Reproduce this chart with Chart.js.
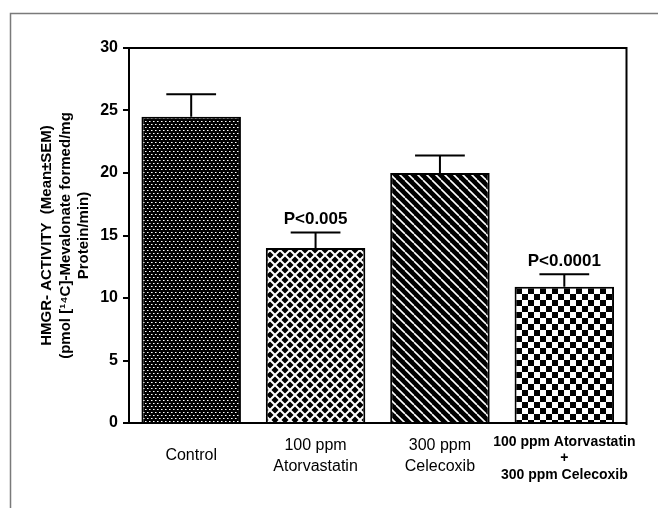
<!DOCTYPE html>
<html>
<head>
<meta charset="utf-8">
<script src="https://cdn.jsdelivr.net/npm/chart.js@4.4.1/dist/chart.umd.min.js"></script>
<style>
  html, body { margin: 0; padding: 0; background: #fff; }
  canvas { display: block; }
</style>
</head>
<body>
<canvas id="c" width="658" height="508"></canvas>
<script>
// ---- data ----
const categories = [
  'Control',
  ['100 ppm', 'Atorvastatin'],
  ['300 ppm', 'Celecoxib'],
  ['100 ppm Atorvastatin', '+', '300 ppm Celecoxib']
];
const values = [24.5, 14.0, 20.0, 10.9];
const semValues = [1.8, 1.25, 1.4, 1.0];
const pLabels = ['', 'P<0.005', '', 'P<0.0001'];
const yTitle = ['HMGR- ACTIVITY  (Mean\u00B1SEM)', '(pmol [\u00B9\u2074C]-Mevalonate formed/mg', 'Protein/min)'];
const yMin = 0, yMax = 30, yStep = 5;

const FONT = '"Liberation Sans", Arial, Helvetica, sans-serif';

// ---- patterns ----
function tile(w, h, draw) {
  const c = document.createElement('canvas');
  c.width = w; c.height = h;
  const g = c.getContext('2d');
  draw(g, w, h);
  return document.getElementById('c').getContext('2d').createPattern(c, 'repeat');
}
const dotPattern = tile(8, 6, (g, w, h) => {
  g.fillStyle = '#000'; g.fillRect(0, 0, w, h);
  g.fillStyle = '#fff';
  g.fillRect(1, 1, 1, 1); g.fillRect(5, 1, 1, 1);
  g.fillRect(3, 4, 1, 1); g.fillRect(7, 4, 1, 1);
  g.fillStyle = '#888';
  g.fillRect(2, 1, 1, 1); g.fillRect(6, 1, 1, 1);
  g.fillRect(4, 4, 1, 1); g.fillRect(0, 4, 1, 1);
});
const diamondPattern = tile(10, 10, (g, w, h) => {
  g.fillStyle = '#000'; g.fillRect(0, 0, w, h);
  g.strokeStyle = '#fff'; g.lineWidth = 2;
  for (const dx of [-w, 0, w]) for (const dy of [-h, 0, h]) {
    g.beginPath();
    g.moveTo(dx, dy); g.lineTo(dx + w, dy + h);
    g.moveTo(dx + w, dy); g.lineTo(dx, dy + h);
    g.stroke();
  }
});
const stripePattern = tile(9, 9, (g, w, h) => {
  g.fillStyle = '#000'; g.fillRect(0, 0, w, h);
  g.strokeStyle = '#fff'; g.lineWidth = 1.6;
  for (const dx of [-w, 0, w]) {
    g.beginPath();
    g.moveTo(dx, 0); g.lineTo(dx + w, h);
    g.stroke();
  }
});
const checkerPattern = tile(12, 12, (g, w, h) => {
  g.fillStyle = '#fff'; g.fillRect(0, 0, w, h);
  g.fillStyle = '#000';
  g.fillRect(0, 0, 6, 6); g.fillRect(6, 6, 6, 6);
});
const barFills = [dotPattern, diamondPattern, stripePattern, checkerPattern];

// ---- plugins ----
const framePlugin = {
  id: 'frame',
  beforeDraw(chart) {
    const ctx = chart.ctx;
    ctx.save();
    ctx.fillStyle = '#fff';
    ctx.fillRect(0, 0, chart.width, chart.height);
    ctx.strokeStyle = '#7a7a7a';
    ctx.lineWidth = 1.5;
    ctx.beginPath();
    ctx.moveTo(10.5, chart.height + 5);
    ctx.lineTo(10.5, 13.5);
    ctx.lineTo(chart.width + 5, 13.5);
    ctx.stroke();
    ctx.restore();
  },
  afterDraw(chart) {
    const {ctx, chartArea: a} = chart;
    ctx.save();
    ctx.strokeStyle = '#000';
    ctx.lineWidth = 2;
    ctx.beginPath();
    ctx.moveTo(a.left - 1, a.top);
    ctx.lineTo(a.right, a.top);
    ctx.lineTo(a.right, a.bottom + 2);
    ctx.stroke();
    ctx.restore();
  }
};
const errorPlugin = {
  id: 'errorBars',
  afterDatasetsDraw(chart) {
    const ctx = chart.ctx;
    const meta = chart.getDatasetMeta(0);
    const y = chart.scales.y;
    ctx.save();
    ctx.strokeStyle = '#000';
    ctx.lineWidth = 2;
    meta.data.forEach((bar, i) => {
      const x = bar.x;
      const yBar = y.getPixelForValue(values[i]);
      const yTop = y.getPixelForValue(values[i] + semValues[i]);
      const half = bar.width / 4;
      ctx.beginPath();
      ctx.moveTo(x, yBar);
      ctx.lineTo(x, yTop);
      ctx.moveTo(x - half, yTop);
      ctx.lineTo(x + half, yTop);
      ctx.stroke();
      if (pLabels[i]) {
        ctx.fillStyle = '#000';
        ctx.font = 'bold 17px ' + FONT;
        ctx.textAlign = 'center';
        ctx.textBaseline = 'middle';
        ctx.fillText(pLabels[i], x, yTop - 13);
      }
    });
    ctx.restore();
  }
};

new Chart(document.getElementById('c'), {
  type: 'bar',
  data: {
    labels: categories,
    datasets: [{
      data: values,
      backgroundColor: barFills,
      borderColor: '#000',
      borderWidth: 2,
      barPercentage: 0.8,
      categoryPercentage: 1.0
    }]
  },
  options: {
    responsive: false,
    animation: false,
    devicePixelRatio: 1,
    layout: { padding: { top: 48, right: 28, left: 0, bottom: 0 } },
    plugins: { legend: { display: false }, tooltip: { enabled: false } },
    scales: {
      x: {
        grid: { display: false, drawTicks: false },
        border: { display: true, color: '#000', width: 2 },
        ticks: {
          color: '#000',
          autoSkip: false,
          maxRotation: 0,
          minRotation: 0,
          crossAlign: 'center',
          padding: 19,
          font: (c) => c.index === 3
            ? { family: FONT, size: 14, weight: 'bold', lineHeight: 1.18 }
            : { family: FONT, size: 16, weight: 'normal', lineHeight: 1.35 }
        },
        afterFit: (s) => { s.height = 85; }
      },
      y: {
        min: yMin,
        max: yMax,
        ticks: {
          stepSize: yStep,
          color: '#000',
          padding: 5,
          font: { family: FONT, size: 16, weight: 'bold' }
        },
        grid: { drawOnChartArea: false, drawTicks: true, tickLength: 6, color: '#000', lineWidth: 2 },
        border: { display: true, color: '#000', width: 2 },
        title: {
          display: true,
          text: yTitle,
          color: '#000',
          font: { family: FONT, size: 15, weight: 'bold', lineHeight: 1.233 },
          padding: { top: 37.75, bottom: 0 }
        },
        afterFit: (s) => { s.width = 129; }
      }
    }
  },
  plugins: [framePlugin, errorPlugin]
});
</script>
</body>
</html>
